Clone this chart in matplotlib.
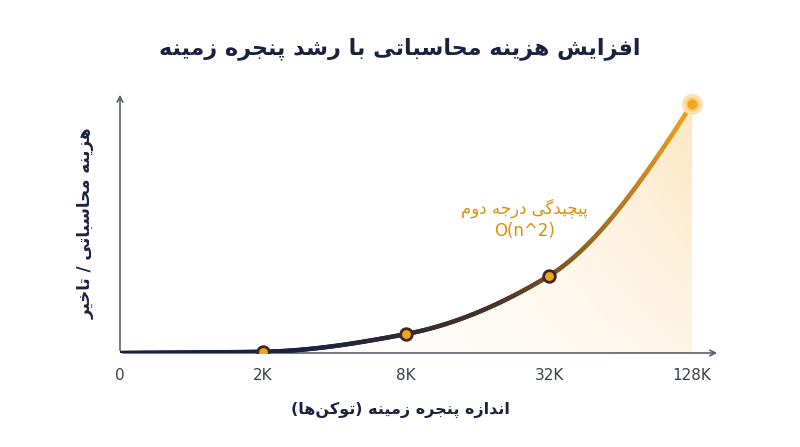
import numpy as np
import matplotlib.pyplot as plt
from matplotlib.collections import LineCollection
from matplotlib.colors import LinearSegmentedColormap

plt.rcParams['font.family'] = ['DejaVu Sans', 'Noto Sans']

title = "افزایش هزینه محاسباتی با رشد پنجره زمینه"
ylabel = "هزینه محاسباتی / تاخیر"
xlabel = "اندازه پنجره زمینه (توکن\u200cها)"
note = "پیچیدگی درجه دوم"
note2 = "O(n^2)"
tick_labels = ["0", "2K", "8K", "32K", "128K"]
cost = [0.0, 0.005, 0.076, 0.31, 1.0]

# minimal Persian shaping: isolated, final, initial, medial
FORMS = {
    'ا': (0xFE8D, 0xFE8E, None, None), 'د': (0xFEA9, 0xFEAA, None, None),
    'ر': (0xFEAD, 0xFEAE, None, None), 'ز': (0xFEAF, 0xFEB0, None, None),
    'و': (0xFEED, 0xFEEE, None, None),
    'ب': (0xFE8F, 0xFE90, 0xFE91, 0xFE92), 'ت': (0xFE95, 0xFE96, 0xFE97, 0xFE98),
    'ج': (0xFE9D, 0xFE9E, 0xFE9F, 0xFEA0), 'ح': (0xFEA1, 0xFEA2, 0xFEA3, 0xFEA4),
    'خ': (0xFEA5, 0xFEA6, 0xFEA7, 0xFEA8), 'س': (0xFEB1, 0xFEB2, 0xFEB3, 0xFEB4),
    'ش': (0xFEB5, 0xFEB6, 0xFEB7, 0xFEB8), 'ف': (0xFED1, 0xFED2, 0xFED3, 0xFED4),
    'ک': (0xFB8E, 0xFB8F, 0xFB90, 0xFB91), 'گ': (0xFB92, 0xFB93, 0xFB94, 0xFB95),
    'م': (0xFEE1, 0xFEE2, 0xFEE3, 0xFEE4), 'ن': (0xFEE5, 0xFEE6, 0xFEE7, 0xFEE8),
    'ه': (0xFEE9, 0xFEEA, 0xFEEB, 0xFEEC), 'ی': (0xFBFC, 0xFBFD, 0xFBFE, 0xFBFF),
    'پ': (0xFB56, 0xFB57, 0xFB58, 0xFB59), 'چ': (0xFB7A, 0xFB7B, 0xFB7C, 0xFB7D),
}


def fa(s):
    out = []
    for i, c in enumerate(s):
        if c not in FORMS:
            out.append({'(': ')', ')': '('}.get(c, c) if c != '\u200c' else '')
            continue
        p = s[i - 1] if i > 0 else ''
        n = s[i + 1] if i + 1 < len(s) else ''
        jp = p in FORMS and FORMS[p][2] is not None
        jn = n in FORMS and FORMS[c][2] is not None
        f = FORMS[c]
        code = f[3] if (jp and jn) else f[1] if jp else f[2] if jn else f[0]
        out.append(chr(code))
    return ''.join(out)[::-1]


def pchip(x, y, xs):
    x = np.asarray(x, float); y = np.asarray(y, float)
    h = np.diff(x); d = np.diff(y) / h
    m = np.zeros_like(y)
    for k in range(1, len(y) - 1):
        if d[k - 1] * d[k] > 0:
            m[k] = 2 / (1 / d[k - 1] + 1 / d[k])
    m[0] = d[0]; m[-1] = d[-1] * 1.3
    k = np.clip(np.searchsorted(x, xs) - 1, 0, len(h) - 1)
    t = (xs - x[k]) / h[k]
    return ((2*t**3 - 3*t**2 + 1) * y[k] + (t**3 - 2*t**2 + t) * h[k] * m[k]
            + (-2*t**3 + 3*t**2) * y[k + 1] + (t**3 - t**2) * h[k] * m[k + 1])


navy = '#1b2240'
orange = '#f2a41c'
xi = np.arange(len(cost))

fig = plt.figure(figsize=(8, 4.47), dpi=100)
ax = fig.add_axes([0.15, 0.2103, 0.75, 0.5839])
ax.set_xlim(0, 600 / 143)
ax.set_ylim(0, 261 / 249)
ax.axis('off')

xs = np.linspace(0, xi[-1], 400)
ys = np.maximum(pchip(xi, cost, xs), 0)

# soft orange glow under the curve, stronger to the right and top
gx = np.linspace(0, 1, 256)[None, :] ** 2.5
gy = np.linspace(1, 0.4, 128)[:, None]
grad = gx * gy
cm_fill = LinearSegmentedColormap.from_list('f', ['#ffffff', '#fde6c2'])
im = ax.imshow(grad, extent=[0, xi[-1], 0, 1], aspect='auto', cmap=cm_fill,
               vmin=0, vmax=1, zorder=0)
poly = ax.fill_between(xs, 0, ys, color='none')
im.set_clip_path(poly.get_paths()[0], transform=ax.transData)

cmap = LinearSegmentedColormap.from_list('c', [navy, navy, '#4a3328', orange])
pts = np.column_stack([xs, ys]).reshape(-1, 1, 2)
lc = LineCollection(np.concatenate([pts[:-1], pts[1:]], axis=1), cmap=cmap,
                    linewidth=3.2, capstyle='round', zorder=3)
lc.set_array(xs / xs[-1])
ax.add_collection(lc)

ax.scatter(xi[1:-1], cost[1:-1], s=70, color=orange, edgecolor='#3a2a20', linewidth=2, zorder=4)
ax.scatter(xi[-1:], cost[-1:], s=200, color='#fbe0b0', zorder=4)
ax.scatter(xi[-1:], cost[-1:], s=70, color=orange, edgecolor='#f7c870', linewidth=1.5, zorder=5)

ac = '#5a5f6e'
ax.annotate('', xy=(600 / 143, 0), xytext=(0, 0),
            arrowprops=dict(arrowstyle='->', color=ac, lw=1.2), zorder=2)
ax.annotate('', xy=(0, 261 / 249), xytext=(0, 0),
            arrowprops=dict(arrowstyle='->', color=ac, lw=1.2), zorder=2)

for x, lab in zip(xi, tick_labels):
    ax.text(x, -0.09, lab, ha='center', va='center', fontsize=11, color='#3a3f4e')

fig.text(0.5, 0.892, fa(title), ha='center', va='center', fontsize=16,
         fontweight='bold', color=navy)
fig.text(0.5, 0.083, fa(xlabel), ha='center', va='center', fontsize=11.5,
         fontweight='semibold', color=navy)
fig.text(0.107, 0.5, fa(ylabel), ha='center', va='center', rotation=90,
         fontsize=12, fontweight='bold', color=navy)
ax.text(2.83, 0.58, fa(note), ha='center', va='center', fontsize=12, color='#d8900c')
ax.text(2.83, 0.49, note2, ha='center', va='center', fontsize=12, color='#d8900c')

fig.savefig('out.png', dpi=100)
